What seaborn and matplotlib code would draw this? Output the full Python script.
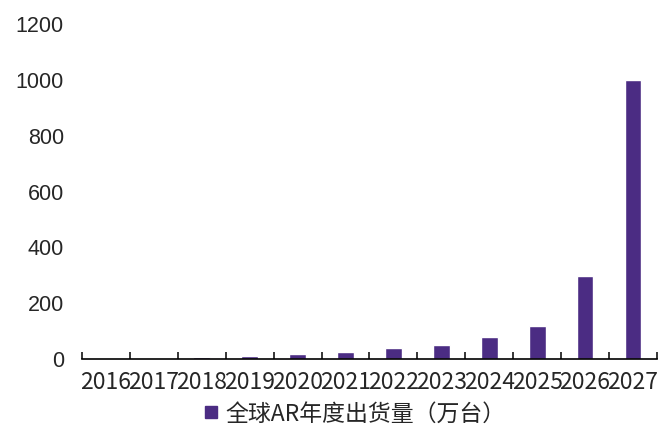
import numpy as np
import pandas as pd
import matplotlib
matplotlib.use("Agg")
import matplotlib.pyplot as plt
import seaborn as sns
from matplotlib.lines import Line2D
from matplotlib.ticker import FixedLocator

# 全球AR年度出货量（万台）
years = ['2016', '2017', '2018', '2019', '2020', '2021',
         '2022', '2023', '2024', '2025', '2026', '2027']
shipments = [3, 4, 6, 11, 19, 27, 41, 49, 79, 119, 299, 1000]
series_name = '全球AR年度出货量（万台）'
bar_color = '#4B2C83'

df = pd.DataFrame({'year': years, 'value': shipments})

sns.set_style('white')
plt.rcParams['font.family'] = ['Noto Sans CJK SC', 'DejaVu Sans']

fig = plt.figure(figsize=(6.69, 4.28), dpi=100)
ax = fig.add_axes([0.1226, 0.161, 0.8594, 0.783])

sns.barplot(data=df, x='year', y='value', color=bar_color, width=0.35,
            saturation=1, ax=ax)

ax.set_xlim(-0.5, len(years) - 0.5)
ax.set_ylim(0, 1200)
ax.set_yticks(np.arange(0, 1201, 200))
ax.set_xlabel('')
ax.set_ylabel('')

for s in ['top', 'right', 'left']:
    ax.spines[s].set_visible(False)
ax.spines['bottom'].set_color('black')
ax.spines['bottom'].set_linewidth(1.2)

# tick labels
ax.tick_params(axis='x', which='major', bottom=False, labelbottom=True,
               labelsize=16.5, pad=5)
ax.tick_params(axis='y', length=0, pad=13)
for lab in ax.get_yticklabels():
    lab.set_fontfamily('Liberation Sans')
    lab.set_fontsize(15.5)

# boundary ticks between categories
ax.xaxis.set_minor_locator(FixedLocator(np.arange(-0.5, len(years), 1.0)))
ax.tick_params(axis='x', which='minor', bottom=True, direction='in', length=5,
               width=1.1, color='black')

handle = Line2D([], [], marker='s', linestyle='none', markersize=8,
                markerfacecolor=bar_color, markeredgecolor=bar_color)
fig.legend([handle], [series_name], loc='center', bbox_to_anchor=(0.527, 0.033),
           frameon=False, handletextpad=0.15, handlelength=1.0,
           prop={'size': 16.5})

fig.savefig('out.png', dpi=100)
